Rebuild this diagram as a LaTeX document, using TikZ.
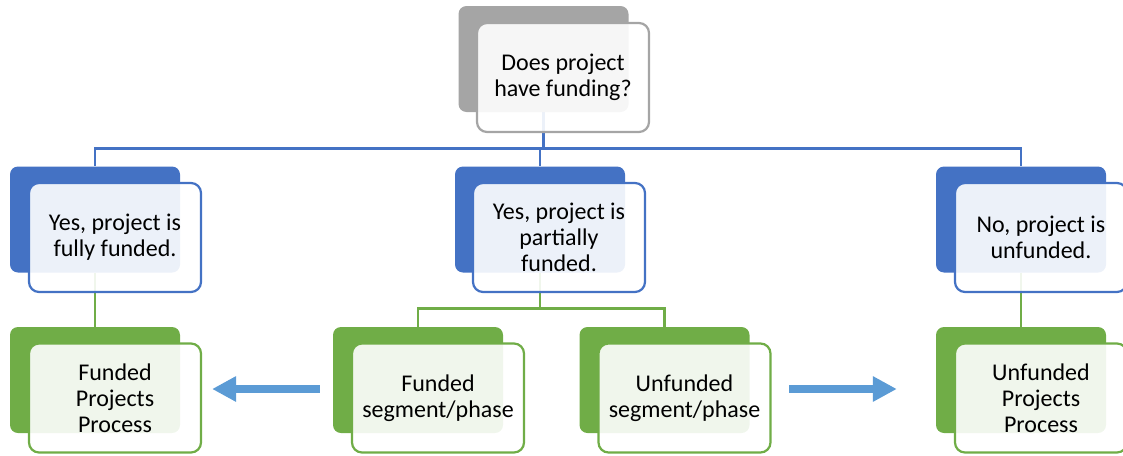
\documentclass[tikz,border=0pt]{standalone}
\usepackage{fontspec}
\setmainfont{Carlito}
\usetikzlibrary{arrows.meta,backgrounds}

\definecolor{ablue}{HTML}{4472C4}
\definecolor{agreen}{HTML}{70AD47}
\definecolor{agrey}{HTML}{A5A5A5}
\definecolor{aarrow}{HTML}{5B9BD5}

\tikzset{
  backbox/.style={fill=#1, rounded corners=8pt, minimum width=170pt, minimum height=106pt, inner sep=0pt},
  frontbox/.style={draw=#1, line width=2.2pt, fill=white, fill opacity=0.9, text opacity=1,
    rounded corners=10pt, minimum width=172pt, minimum height=109pt, align=center, inner sep=0pt,
    font=\fontsize{24}{26}\selectfont},
  link/.style={draw=#1, line width=2.8pt},
  bigarrow/.style={draw=aarrow, line width=8pt, -{Triangle[length=24pt,width=24pt]}}
}

\begin{document}
\begin{tikzpicture}[x=1pt,y=-1pt]
			\useasboundingbox (0,0) rectangle (1123,455);
			% question
			\node[backbox=agrey] (askB) at (543.5,59) {};
			\node[frontbox=agrey] (askF) at ([xshift=19.5pt,yshift=-18.5pt]askB.center) {Does project\\have funding?};
			% answers
			\node[backbox=ablue] (fullB) at (95,219.5) {};
			\node[frontbox=ablue] (fullF) at ([xshift=20pt,yshift=-18pt]fullB.center) {Yes, project is\\fully funded.};
			\node[backbox=ablue] (partB) at (540,219.5) {};
			\node[frontbox=ablue] (partF) at ([xshift=19pt,yshift=-18pt]partB.center) {Yes, project is\\partially\\funded.};
			\node[backbox=ablue] (noB) at (1021,219.5) {};
			\node[frontbox=ablue] (noF) at ([xshift=20pt,yshift=-18pt]noB.center) {No, project is\\unfunded.};
			% processes
			\node[backbox=agreen] (fundB) at (95,380) {};
			\node[frontbox=agreen] (fundF) at ([xshift=20pt,yshift=-18pt]fundB.center) {Funded\\Projects\\Process};
			\node[backbox=agreen] (fsegB) at (418,380) {};
			\node[frontbox=agreen] (fsegF) at ([xshift=20pt,yshift=-18pt]fsegB.center) {Funded\\segment/phase};
			\node[backbox=agreen] (usegB) at (664.5,380) {};
			\node[frontbox=agreen] (usegF) at ([xshift=20pt,yshift=-18pt]usegB.center) {Unfunded\\segment/phase};
			\node[backbox=agreen] (unfB) at (1021,380) {};
			\node[frontbox=agreen] (unfF) at ([xshift=20pt,yshift=-18pt]unfB.center) {Unfunded\\Projects\\Process};
			% connectors
			\begin{scope}[on background layer]
				\draw[link=ablue] (askB.south) -- ++(0,36) coordinate (bus);
				\draw[link=ablue] (bus) -| (fullB.north);
				\draw[link=ablue] (bus) -| (noB.north);
				\draw[link=ablue] (bus) -| (partB.north);
				\draw[link=agreen] (fullB.south) -- (fundB.north);
				\draw[link=agreen] (partB.south) -- ++(0,36) coordinate (split);
				\draw[link=agreen] (split) -| (fsegB.north);
				\draw[link=agreen] (split) -| (usegB.north);
				\draw[link=agreen] (noB.south) -- (unfB.north);
			\end{scope}
			% block arrows
			\draw[bigarrow] ([xshift=-13pt,yshift=-9pt]fsegB.west) -- ([xshift=10pt,yshift=9pt]fundF.east);
			\draw[bigarrow] ([xshift=17.5pt,yshift=9pt]usegF.east) -- ([xshift=-39pt,yshift=-9pt]unfB.west);
		\end{tikzpicture}
\end{document}
